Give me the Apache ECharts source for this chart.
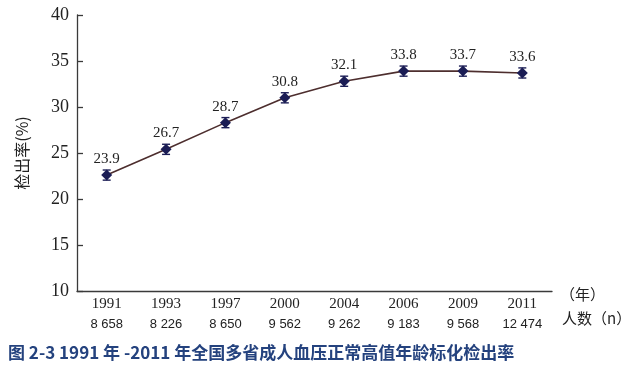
<!DOCTYPE html>
<html><head><meta charset="utf-8">
<script src="https://cdn.jsdelivr.net/npm/echarts@6/dist/echarts.min.js"></script>
<style>html,body{margin:0;padding:0;background:#fff}#c{width:640px;height:376px}</style>
</head><body><div id="c"></div>
<script>
var years = ['1991','1993','1997','2000','2004','2006','2009','2011'];
var counts = ['8 658','8 226','8 650','9 562','9 262','9 183','9 568','12 474'];
var labels = ['23.9','26.7','28.7','30.8','32.1','33.8','33.7','33.6'];
var plotted = [22.6, 25.4, 28.3, 31.0, 32.8, 33.9, 33.9, 33.7];
var errs = [0.55, 0.55, 0.55, 0.55, 0.55, 0.55, 0.55, 0.55];
var yTicks = [10, 15, 20, 25, 30, 35, 40];

var chart = echarts.init(document.getElementById('c'));
var axisColor = '#3a3a3a';
var serif = '"Liberation Serif","DejaVu Serif",serif';
chart.setOption({
  animation: false,
  grid: {left: 77, right: 88, top: 15, bottom: 85},
  xAxis: {
    type: 'category', data: years, boundaryGap: true,
    axisLine: {lineStyle: {color: axisColor, width: 1.3}},
    axisTick: {inside: true, length: 6, lineStyle: {color: axisColor, width: 1.3}},
    axisLabel: {
      margin: 3, interval: 0,
      formatter: function (v, i) { return '{y|' + v + '}\n{n|' + counts[i] + '}'; },
      rich: {
        y: {fontFamily: serif, fontSize: 15, color: '#222', lineHeight: 20},
        n: {fontFamily: '"Liberation Sans Narrow","Liberation Sans",sans-serif', fontSize: 13, color: '#222', lineHeight: 20}
      }
    }
  },
  yAxis: {
    type: 'value', min: yTicks[0], max: yTicks[yTicks.length - 1], interval: 5,
    name: '检出率(%)', nameLocation: 'middle', nameGap: 47, nameRotate: 90,
    nameTextStyle: {fontFamily: '"Noto Sans CJK SC",sans-serif', fontSize: 16, color: '#222', padding: [0, 0, 0, 0]},
    splitLine: {show: false},
    axisLine: {show: true, lineStyle: {color: axisColor, width: 1.3}},
    axisTick: {show: true, inside: true, length: 6, lineStyle: {color: axisColor, width: 1.3}},
    axisLabel: {fontFamily: serif, fontSize: 18, color: '#222', margin: 8}
  },
  series: [
    {
      type: 'line', data: plotted,
      symbol: 'diamond', symbolSize: 11,
      lineStyle: {color: '#4d2e2e', width: 1.6},
      itemStyle: {color: '#1b1d55'},
      label: {
        show: true, position: 'top', distance: 3,
        formatter: function (p) { return labels[p.dataIndex]; },
        fontFamily: serif, fontSize: 15, color: '#222'
      },
      z: 3
    },
    {
      type: 'custom', z: 4,
      data: plotted.map(function (v, i) { return [i, v - errs[i], v + errs[i]]; }),
      renderItem: function (params, api) {
        var lo = api.coord([api.value(0), api.value(1)]);
        var hi = api.coord([api.value(0), api.value(2)]);
        var w = 4;
        var st = {stroke: '#1b1d55', lineWidth: 1.4};
        return {type: 'group', children: [
          {type: 'line', shape: {x1: lo[0], y1: lo[1], x2: hi[0], y2: hi[1]}, style: st},
          {type: 'line', shape: {x1: lo[0] - w, y1: lo[1], x2: lo[0] + w, y2: lo[1]}, style: st},
          {type: 'line', shape: {x1: hi[0] - w, y1: hi[1], x2: hi[0] + w, y2: hi[1]}, style: st}
        ]};
      }
    }
  ],
  graphic: [
    {type: 'text', left: 560, top: 287, style: {text: '（年）', fontFamily: '"Noto Sans CJK SC",sans-serif', fontSize: 15, fill: '#222'}},
    {type: 'text', left: 562, top: 311, style: {text: '人数（n）', fontFamily: '"Noto Sans CJK SC",sans-serif', fontSize: 15, fill: '#222'}},
    {type: 'text', left: 8, top: 344, style: {text: '图 2-3 1991 年 -2011 年全国多省成人血压正常高值年龄标化检出率', fontFamily: '"Noto Sans CJK SC",sans-serif', fontSize: 17, fontWeight: 'bold', fill: '#24427e'}}
  ]
});
</script></body></html>
